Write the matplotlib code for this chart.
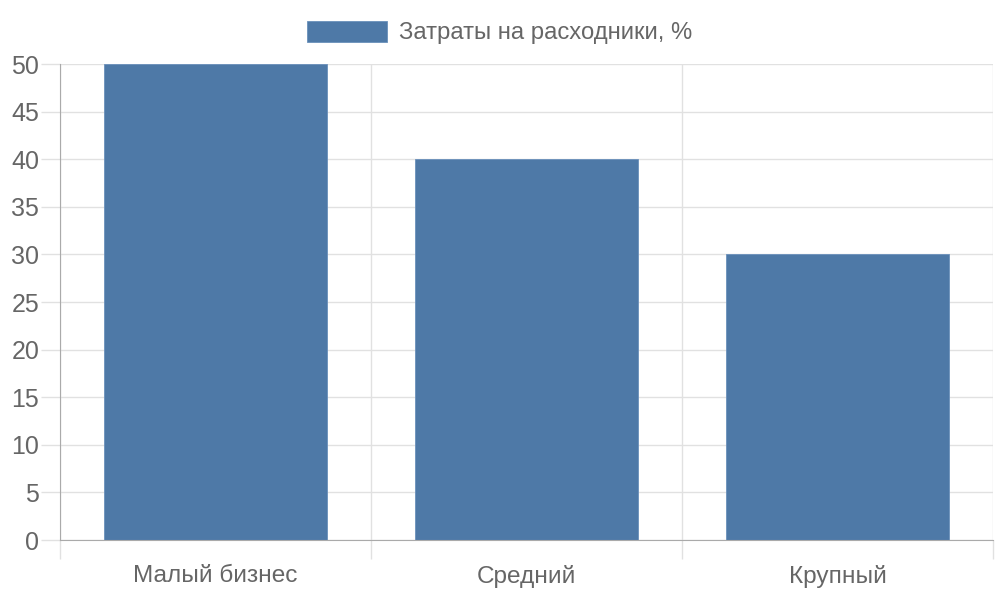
import matplotlib
matplotlib.use("Agg")
import matplotlib.pyplot as plt
import numpy as np

categories = ["Малый бизнес", "Средний", "Крупный"]
values = [50, 40, 30]
series_name = "Затраты на расходники, %"
yticks = [0, 5, 10, 15, 20, 25, 30, 35, 40, 45, 50]

plt.rcParams['font.family'] = ['Liberation Sans', 'DejaVu Sans']

BAR = '#4e79a7'
TXT = '#666666'
GRID = '#e1e1e1'
AXIS = '#aaaaaa'

fig = plt.figure(figsize=(10, 6), dpi=100)
ax = fig.add_axes([0.06, 0.1, 0.933, 0.7933])

x = np.arange(len(categories)) + 0.5
ax.bar(x, values, width=0.72, color=BAR, edgecolor='#6a90bb', linewidth=0.6,
       label=series_name, zorder=3)

ax.set_xlim(0, len(categories))
ax.set_ylim(0, 50)

ax.set_yticks(yticks)
ax.set_yticklabels([str(v) for v in yticks])
ax.set_xticks(x)
ax.set_xticklabels(categories)
ax.set_xticks(np.arange(len(categories) + 1), minor=True)

tl = 19 * 72 / 100
ax.tick_params(axis='y', which='major', length=tl, width=1, color=GRID,
               labelsize=18, labelcolor=TXT, pad=1.2)
ax.tick_params(axis='x', which='major', length=0, labelsize=17.6,
               labelcolor=TXT, pad=tl + 4.2)
ax.tick_params(axis='x', which='minor', length=tl, width=1, color=GRID)

ax.grid(axis='y', which='major', color=GRID, linewidth=1, zorder=0)
ax.grid(axis='x', which='minor', color=GRID, linewidth=1, zorder=0)
ax.set_axisbelow(True)

for s in ['top', 'right']:
    ax.spines[s].set_visible(False)
ax.spines['left'].set_color(AXIS)
ax.spines['bottom'].set_color(AXIS)
ax.spines['left'].set_zorder(4)
ax.spines['bottom'].set_zorder(4)

ax.xaxis.get_minor_ticks()[0].tick1line.set_color(AXIS)
ax.yaxis.get_major_ticks()[0].tick1line.set_color(AXIS)

fs = 17.2
fpx = fs * 100 / 72
leg = fig.legend(loc='center', bbox_to_anchor=(0.4995, 1 - 32.5 / 600),
                 frameon=False, fontsize=fs, labelcolor=TXT,
                 handlelength=80 / fpx, handleheight=23 / fpx,
                 handletextpad=12 / fpx, borderpad=0)

fig.savefig('out.png', dpi=100)
